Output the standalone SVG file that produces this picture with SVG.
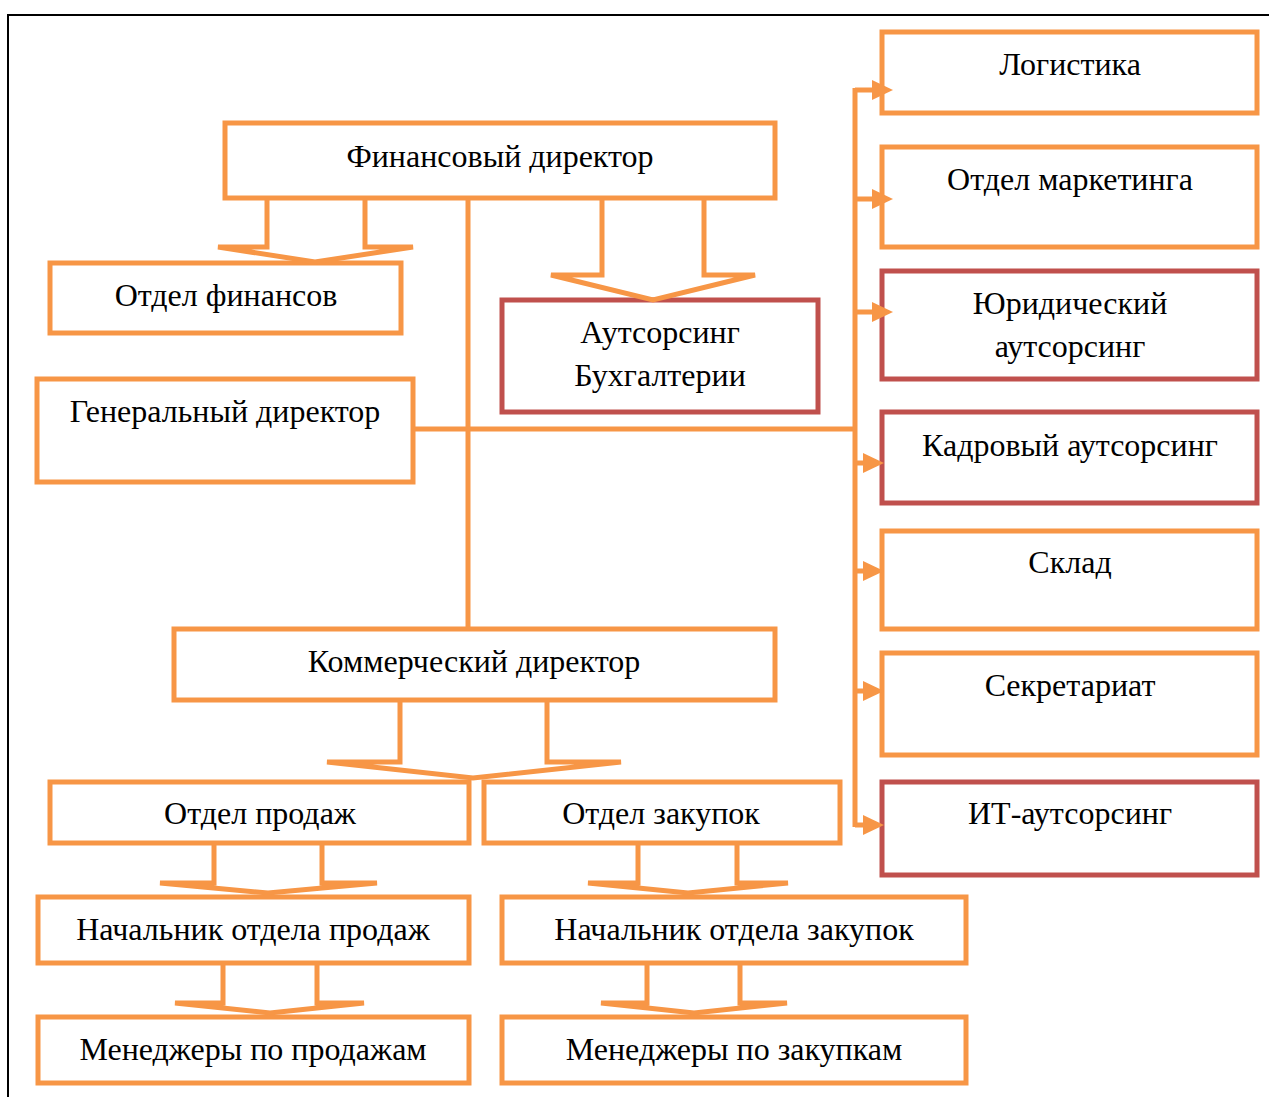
<svg xmlns="http://www.w3.org/2000/svg" width="1269" height="1097" viewBox="0 0 1269 1097">
<defs>
<style>
.o{fill:#fff;stroke:#F79646;stroke-width:5}
.r{fill:#fff;stroke:#C0504D;stroke-width:5}
.t{font-family:"Liberation Serif","Times New Roman",serif;font-size:32px;fill:#000;text-anchor:middle}
.ln{fill:none;stroke:#F79646;stroke-width:5}
.ah{fill:#F79646;stroke:none}
.ba{fill:none;stroke:#F79646;stroke-width:5;stroke-linejoin:miter}
</style>
</defs>
<rect width="1269" height="1097" fill="#fff"/>
<path d="M8,1097 V15 H1269" fill="none" stroke="#000" stroke-width="2"/>

<g id="fin-dir"><rect class="o" x="225" y="123" width="550" height="75"/><text class="t" x="500" y="167">Финансовый директор</text></g>
<g id="otdel-fin"><rect class="o" x="50" y="263" width="351" height="70"/><text class="t" x="226" y="306">Отдел финансов</text></g>
<g id="outs-buh"><rect class="r" x="502" y="300" width="316" height="112"/><text class="t" x="660" y="343">Аутсорсинг</text><text class="t" x="660" y="386">Бухгалтерии</text></g>
<g id="gen-dir"><rect class="o" x="37" y="379" width="376" height="103"/><text class="t" x="225" y="422">Генеральный директор</text></g>
<g id="kom-dir"><rect class="o" x="174" y="629" width="601" height="71"/><text class="t" x="474" y="672">Коммерческий директор</text></g>
<g id="otdel-prod"><rect class="o" x="50" y="782" width="419" height="61"/><text class="t" x="260" y="824">Отдел продаж</text></g>
<g id="otdel-zak"><rect class="o" x="484" y="782" width="356" height="61"/><text class="t" x="661" y="824">Отдел закупок</text></g>
<g id="nach-prod"><rect class="o" x="38" y="897" width="431" height="66"/><text class="t" x="253" y="940">Начальник отдела продаж</text></g>
<g id="nach-zak"><rect class="o" x="502" y="897" width="464" height="66"/><text class="t" x="734" y="940">Начальник отдела закупок</text></g>
<g id="men-prod"><rect class="o" x="38" y="1017" width="431" height="66"/><text class="t" x="253" y="1060">Менеджеры по продажам</text></g>
<g id="men-zak"><rect class="o" x="502" y="1017" width="464" height="66"/><text class="t" x="734" y="1060">Менеджеры по закупкам</text></g>

<g id="logistika"><rect class="o" x="882" y="32" width="375" height="81"/><text class="t" x="1070" y="75">Логистика</text></g>
<g id="marketing"><rect class="o" x="882" y="147" width="375" height="100"/><text class="t" x="1070" y="190">Отдел маркетинга</text></g>
<g id="yur-outs"><rect class="r" x="882" y="271" width="375" height="108"/><text class="t" x="1070" y="314">Юридический</text><text class="t" x="1070" y="357">аутсорсинг</text></g>
<g id="kadr-outs"><rect class="r" x="882" y="412" width="375" height="91"/><text class="t" x="1070" y="456">Кадровый аутсорсинг</text></g>
<g id="sklad"><rect class="o" x="882" y="531" width="375" height="98"/><text class="t" x="1070" y="573">Склад</text></g>
<g id="sekretariat"><rect class="o" x="882" y="653" width="375" height="102"/><text class="t" x="1070" y="696">Секретариат</text></g>
<g id="it-outs"><rect class="r" x="882" y="782" width="375" height="93"/><text class="t" x="1070" y="824">ИТ-аутсорсинг</text></g>

<g id="connectors">
<path class="ln" d="M468,200 V627"/>
<path class="ln" d="M415,429 H855"/>
<path class="ln" d="M855,88 V827"/>
<path class="ln" d="M855,90 H874 M855,199 H874 M855,312 H874 M855,463 H865 M855,571 H865 M855,691 H865 M855,825 H865"/>
<polygon class="ah" points="872,80 893,90 872,100"/>
<polygon class="ah" points="872,189 893,199 872,209"/>
<polygon class="ah" points="872,302 893,312 872,322"/>
<polygon class="ah" points="863,453 884,463 863,473"/>
<polygon class="ah" points="863,561 884,571 863,581"/>
<polygon class="ah" points="863,681 884,691 863,701"/>
<polygon class="ah" points="863,815 884,825 863,835"/>
<path class="ba" d="M267,200 V247 H218 L315,262 L413,247 H365 V200"/>
<path class="ba" d="M602,200 V275 H551 L653,300 L755,275 H704 V200"/>
<path class="ba" d="M400,702 V762 H327 L473,778 L621,762 H547 V702"/>
<path class="ba" d="M214,845 V883 H160 L268,893 L377,883 H322 V845"/>
<path class="ba" d="M638,845 V883 H588 L688,893 L788,883 H737 V845"/>
<path class="ba" d="M223,965 V1003 H175 L270,1013 L364,1003 H317 V965"/>
<path class="ba" d="M647,965 V1003 H601 L694,1013 L787,1003 H740 V965"/>
</g>
</svg>
